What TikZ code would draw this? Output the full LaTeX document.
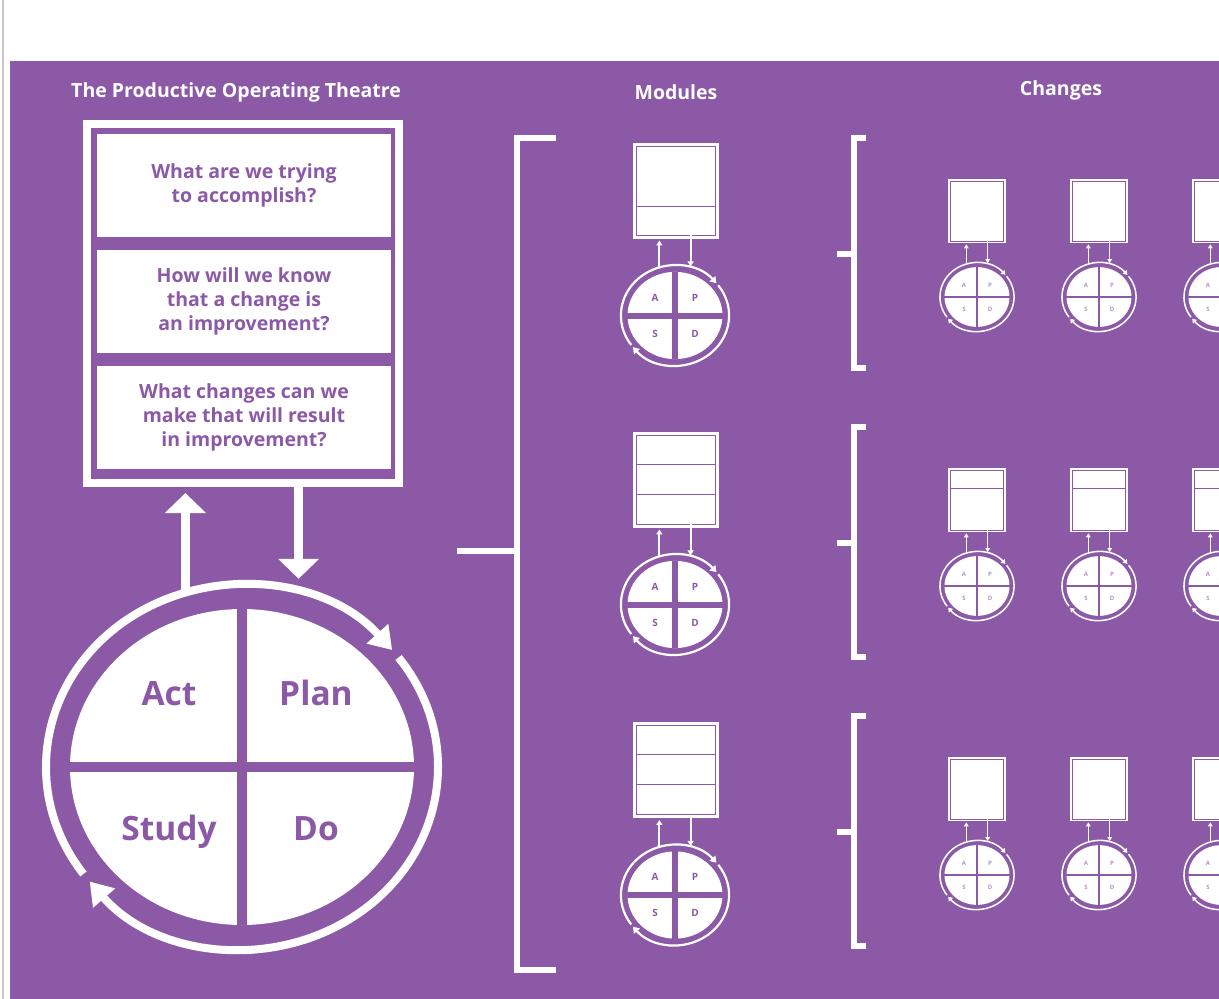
\documentclass[tikz,border=0pt]{standalone}
\usepackage{fontspec}
\setmainfont{Open Sans}
\usetikzlibrary{arrows.meta, shapes.geometric}

\definecolor{pur}{RGB}{139,89,166}

% one PDSA wheel: #1 = size factor, #2 = width of the cross
\tikzset{
  pics/pdsa/.style args={#1/#2}{code={
    \pgfmathsetmacro\rx{196*#1}
    \pgfmathsetmacro\ry{182*#1}
    \pgfmathsetlengthmacro\ringw{8*#1}
    \pgfmathsetlengthmacro\tipw{28*#1}
    \pgfmathsetlengthmacro\tipl{22*#1}
    % white disc split into four
    \node[ellipse, fill=white, inner sep=0pt, minimum width=344*#1, minimum height=316*#1] (-disc) {};
    \draw[pur, line width=#2] (-disc.north) -- (-disc.south) (-disc.west) -- (-disc.east);
    % ring going round clockwise, in two pieces
    \node[ellipse, inner sep=0pt, outer sep=0pt, minimum width=2*\rx, minimum height=2*\ry] (-ring) {};
    \draw[white, line width=\ringw, -{Triangle[width=\tipw, length=\tipl]}]
      (-216:{\rx} and {\ry}) arc[start angle=-216, end angle=-40, x radius=\rx, y radius=\ry];
    \draw[white, line width=\ringw, -{Triangle[width=\tipw, length=\tipl]}]
      (-37:{\rx} and {\ry}) arc[start angle=-37, end angle=141, x radius=\rx, y radius=\ry];
  }}
}

\begin{document}
\begin{tikzpicture}[x=1pt, y=-1pt,
  heading/.style={text=white, font=\bfseries\fontsize{19.5}{22}\selectfont},
  question/.style={rectangle, fill=white, text=pur, align=center, inner sep=0pt,
    minimum width=294, minimum height=103, font=\bfseries\fontsize{19.5}{24}\selectfont},
  qframebox/.style={rectangle, draw=white, line width=8pt, inner sep=0pt,
    minimum width=312, minimum height=359},
  bigword/.style={text=pur, anchor=base, font=\bfseries\fontsize{33.5}{33}\selectfont},
  modletter/.style={text=pur, inner sep=0pt, font=\bfseries\fontsize{10}{10}\selectfont},
  chgletter/.style={text=pur!65, inner sep=0pt, font=\bfseries\fontsize{6}{6}\selectfont},
  bigarrow/.style={white, line width=9pt, -{Triangle[width=40pt, length=20pt]}},
  unitarrow/.style={white, line width=1.8pt, -{Triangle[width=6pt, length=5pt]}},
  chgarrow/.style={white, line width=1.3pt, -{Triangle[width=4.5pt, length=4pt]}},
  modbox/.style={rectangle, fill=white, draw=pur, line width=0.9pt, inner sep=0pt,
    minimum width=79, minimum height=89, preaction={draw=white, line width=7pt}},
  chgbox/.style={rectangle, fill=white, draw=pur, line width=0.6pt, inner sep=0pt,
    minimum width=53, minimum height=60, preaction={draw=white, line width=4.5pt}},
  divline/.style={pur, line width=1.1pt},
  grouping/.style={white, line width=6pt}]

  % page
  \useasboundingbox (0,0) rectangle (1219,999);
  \clip (0,0) rectangle (1219,999);
  \fill[white] (0,0) rectangle (1219,999);
  \draw[gray!45, line width=1.5pt] (3,0) -- (3,999);
  \fill[pur] (10,61) rectangle (1219,999);

  % headings
  \node[heading] (title) at (236,92) {The Productive Operating Theatre};
  \node[heading] (modules) at (676,92) {Modules};
  \node[heading] (changes) at (1061,90) {Changes};

  % the three questions
  \node[qframebox] (qframe) at (243,303.5) {};
  \node[question] (q1) at (244,185) {What are we trying\\to accomplish?};
  \node[question] (q2) at (244,301.5) {How will we know\\that a change is\\an improvement?};
  \node[question] (q3) at (244,417.5) {What changes can we\\make that will result\\in improvement?};

  % big cycle
  \pic (cyc) at (242,767) {pdsa=1/10pt};
  \node[bigword] (act) at ([shift={(-73,-62)}]cyc-ring.center) {Act};
  \node[bigword] (plan) at ([shift={(74,-62)}]cyc-ring.center) {Plan};
  \node[bigword] (study) at ([shift={(-73,73)}]cyc-ring.center) {Study};
  \node[bigword] (do) at ([shift={(74,73)}]cyc-ring.center) {Do};
  \draw[bigarrow, shorten >=6pt] (cyc-ring.108) -- (cyc-ring.108 |- qframe.south);
  \draw[bigarrow, shorten >=14pt] (qframe.south -| cyc-ring.72) -- (cyc-ring.72);

  % bracket to the modules
  \draw[grouping] (556,138) -- (517,138) -- (517,970) -- (556,970);
  \draw[grouping] (457,551) -- (517,551);

  % modules
  \foreach \i/\y in {1/190.5, 2/479.5, 3/770} {
    \node[modbox] (m\i) at (675.5,\y) {};
    \pic (mc\i) at (675,\y+125) {pdsa=0.276/6pt};
    \draw[unitarrow, shorten >=5pt] (mc\i-ring.108) -- (mc\i-ring.108 |- m\i.south);
    \draw[unitarrow, shorten >=1pt] (m\i.south -| mc\i-ring.72) -- (mc\i-ring.72);
    \foreach \lt/\dx/\dy in {A/-20/-18, P/20/-18, S/-20/18, D/20/18}
      \node[modletter] (mc\i\lt) at ([shift={(\dx,\dy)}]mc\i-ring.center) {\lt};
  }
  \foreach \i/\d in {1/61, 2/30, 2/60, 3/29, 3/59}
    \draw[divline] ([shift={(0,\d)}]m\i.north west) -- ([shift={(0,\d)}]m\i.north east);

  % changes, one bracket per module
  \foreach \row/\by in {1/211, 2/500, 3/789} {
    \draw[grouping] (866,\by-73) -- (854,\by-73) -- (854,\by+157) -- (866,\by+157);
    \draw[grouping] (837,\by+43) -- (854,\by+43);
    \foreach \col/\bx in {1/977, 2/1099, 3/1221} {
      \node[chgbox] (c\row\col) at (\bx,\by) {};
      \pic (cc\row\col) at (\bx,\by+86) {pdsa=0.189/2.2pt};
      \draw[chgarrow, shorten >=3pt] (cc\row\col-ring.108) -- (cc\row\col-ring.108 |- c\row\col.south);
      \draw[chgarrow, shorten >=1pt] (c\row\col.south -| cc\row\col-ring.72) -- (cc\row\col-ring.72);
      \foreach \lt/\dx/\dy in {A/-13/-12, P/13/-12, S/-13/12, D/13/12}
        \node[chgletter] (cc\row\col\lt) at ([shift={(\dx,\dy)}]cc\row\col-ring.center) {\lt};
    }
  }
  \foreach \col in {1,2,3}
    \draw[divline, line width=0.7pt] ([shift={(0,19)}]c2\col.north west) -- ([shift={(0,19)}]c2\col.north east);
\end{tikzpicture}
\end{document}
